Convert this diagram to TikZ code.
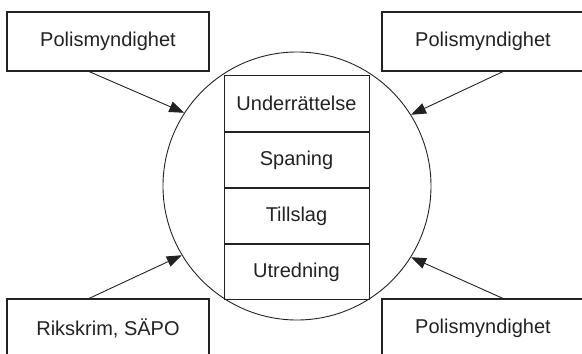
\documentclass[tikz,border=0pt]{standalone}
\usepackage{fontspec}
\setmainfont{Liberation Sans}
\usetikzlibrary{arrows.meta,positioning}
\definecolor{ink}{HTML}{222222}
\tikzset{
  outerbox/.style={draw=ink, line width=1.1pt, minimum width=202pt, minimum height=59pt, inner sep=0pt, text=ink, font=\fontsize{20}{24}\selectfont},
  rowbox/.style={draw=ink, line width=1pt, minimum width=145pt, minimum height=55.25pt, inner sep=0pt, text=ink, font=\fontsize{20}{24}\selectfont},
  ring/.style={draw=ink, line width=0.9pt, circle, minimum size=268pt, inner sep=0pt},
  arr/.style={draw=ink, line width=0.9pt, -{Triangle[length=15pt,width=11pt]}}
}
\begin{document}
\begin{tikzpicture}[x=1pt,y=1pt]
\useasboundingbox (0,0) rectangle (582,354);
\clip (0,0) rectangle (582,354);
\node[ring] (circ) at (297,168) {};
\node[rowbox] (r1) at (296.5,250.4) {Underrättelse};
\node[rowbox, below=0pt of r1] (r2) {Spaning};
\node[rowbox, below=0pt of r2] (r3) {Tillslag};
\node[rowbox, below=0pt of r3] (r4) {Utredning};
\node[outerbox] (tl) at (108,312.5) {Polismyndighet};
\node[outerbox] (tr) at (483,312.5) {Polismyndighet};
\node[outerbox] (bl) at (108,25.5) {Rikskrim, SÄPO};
\node[outerbox] (br) at (483,25.5) {Polismyndighet};
\draw[arr] ([xshift=-19pt]tl.south) -- (circ.147.8);
\draw[arr] ([xshift=20pt]tr.south) -- (circ.32.4);
\draw[arr] ([xshift=-19pt]bl.north) -- (circ.211.8);
\draw[arr] ([xshift=20pt]br.north) -- (circ.328);
\end{tikzpicture}
\end{document}
